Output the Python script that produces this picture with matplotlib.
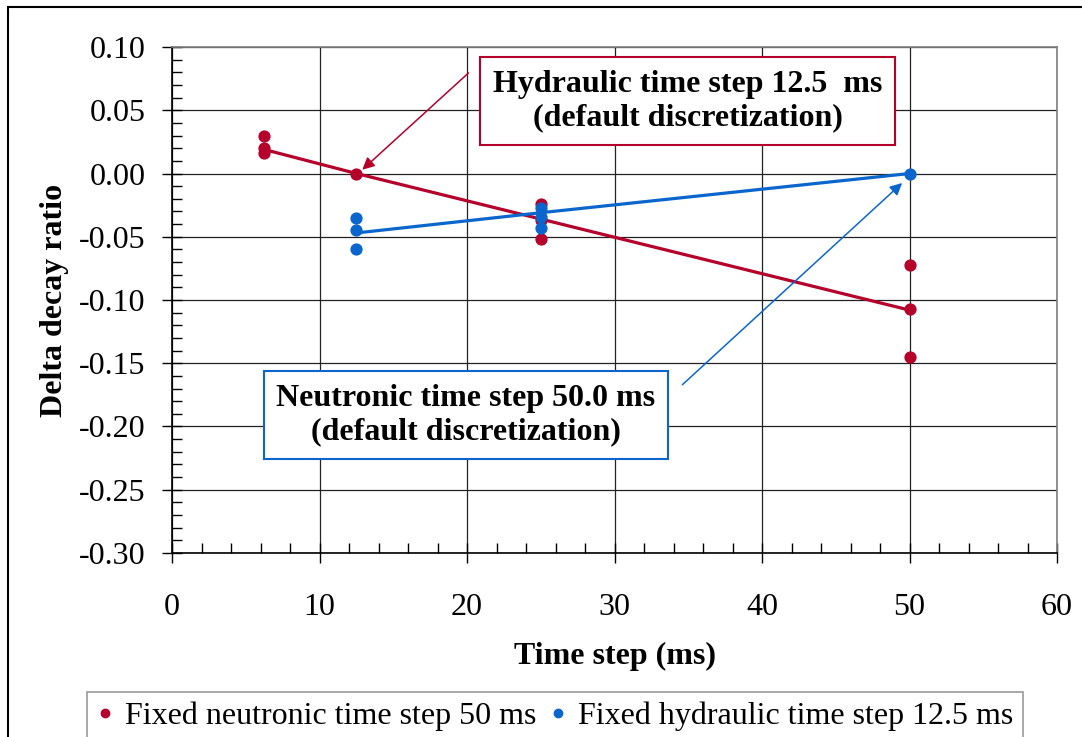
import matplotlib
matplotlib.use("Agg")
import matplotlib.pyplot as plt
from matplotlib.ticker import MultipleLocator, FormatStrFormatter
from matplotlib.patches import Rectangle
from matplotlib.lines import Line2D

plt.rcParams['font.family'] = ['Liberation Serif', 'DejaVu Serif']

# Data
neut_x = [6.25, 6.25, 6.25, 12.5, 25, 25, 25, 50, 50, 50]
neut_y = [0.030, 0.020, 0.016, 0.000, -0.024, -0.037, -0.052, -0.072, -0.107, -0.145]
neut_line_x = [6.25, 12.5, 25, 50]
neut_line_y = [0.019, 0.000, -0.036, -0.108]

hyd_x = [12.5, 12.5, 12.5, 25, 25, 25, 50]
hyd_y = [-0.035, -0.045, -0.060, -0.027, -0.034, -0.043, 0.000]
hyd_line_x = [12.5, 25, 50]
hyd_line_y = [-0.047, -0.031, 0.000]

RED = '#B5002B'
BLUE = '#0A66CC'
FS = 23

fig = plt.figure(figsize=(10.82, 7.37), dpi=100)
ax = fig.add_axes([0.159, 0.2497, 0.8179, 0.6865])

ax.plot(neut_line_x, neut_line_y, color=RED, lw=2.3, zorder=3)
ax.plot(hyd_line_x, hyd_line_y, color=BLUE, lw=2.3, zorder=3)
ax.plot(neut_x, neut_y, 'o', color=RED, ms=7.8, zorder=4, label='Fixed neutronic time step 50 ms')
ax.plot(hyd_x, hyd_y, 'o', color=BLUE, ms=7.8, zorder=5, label='Fixed hydraulic time step 12.5 ms')

ax.set_xlim(0, 60)
ax.set_ylim(-0.30, 0.10)
ax.xaxis.set_major_locator(MultipleLocator(10))
ax.xaxis.set_minor_locator(MultipleLocator(2))
ax.yaxis.set_major_locator(MultipleLocator(0.05))
ax.yaxis.set_minor_locator(MultipleLocator(0.01))
ax.yaxis.set_major_formatter(FormatStrFormatter('%.2f'))
ax.grid(True, which='major', color='#222222', lw=0.9)
ax.set_axisbelow(True)

ax.tick_params(which='major', direction='inout', length=14, width=1, labelsize=FS, color='black')
ax.tick_params(which='minor', direction='in', length=7, width=1, color='black')
ax.tick_params(axis='y', which='major', pad=12)
ax.tick_params(axis='x', which='major', pad=22)

for s in ['left', 'bottom']:
    ax.spines[s].set_color('black')
    ax.spines[s].set_linewidth(1.2)
for s in ['top', 'right']:
    ax.spines[s].set_color('#808080')
    ax.spines[s].set_linewidth(1.2)

ax.set_xlabel('Time step (ms)', fontsize=FS, fontweight='bold', labelpad=14)
ax.set_ylabel('Delta decay ratio', fontsize=FS, fontweight='bold', labelpad=7)

# Annotations
ax.text(34.95, 0.0573, 'Hydraulic time step 12.5  ms\n(default discretization)',
        ha='center', va='center', fontsize=FS, fontweight='bold', linespacing=1.2,
        bbox=dict(boxstyle='square,pad=0.4', fc='white', ec=RED, lw=1.5), zorder=6)
ax.text(19.93, -0.191, 'Neutronic time step 50.0 ms\n(default discretization)',
        ha='center', va='center', fontsize=FS, fontweight='bold', linespacing=1.2,
        bbox=dict(boxstyle='square,pad=0.4', fc='white', ec=BLUE, lw=1.5), zorder=6)

ax.annotate('', xy=(12.9, 0.003), xytext=(20.1, 0.0795),
            arrowprops=dict(arrowstyle='-|>', color=RED, lw=1.1, mutation_scale=18, shrinkA=0, shrinkB=0), zorder=6)
ax.annotate('', xy=(49.5, -0.0075), xytext=(34.6, -0.167),
            arrowprops=dict(arrowstyle='-|>', color=BLUE, lw=1.1, mutation_scale=18, shrinkA=0, shrinkB=0), zorder=6)

# Legend
h1 = Line2D([], [], marker='o', color=RED, ls='none', ms=6)
h2 = Line2D([], [], marker='o', color=BLUE, ls='none', ms=6)
leg = fig.legend([h1, h2], ['Fixed neutronic time step 50 ms', 'Fixed hydraulic time step 12.5 ms'],
                 loc='upper center', bbox_to_anchor=(0.513, 0.0605), ncol=2, fontsize=FS,
                 frameon=True, fancybox=False, edgecolor='#808080', handlelength=0.5,
                 handletextpad=0.4, columnspacing=0.4, borderpad=0.3, borderaxespad=0)
leg.get_frame().set_linewidth(1.2)

# Figure border
fig.patches.append(Rectangle((8 / 1082, -0.1), 2.0, 1.1 - 7 / 737, transform=fig.transFigure,
                             fill=False, ec='black', lw=1.5, zorder=0))

fig.savefig('out.png', dpi=100)
